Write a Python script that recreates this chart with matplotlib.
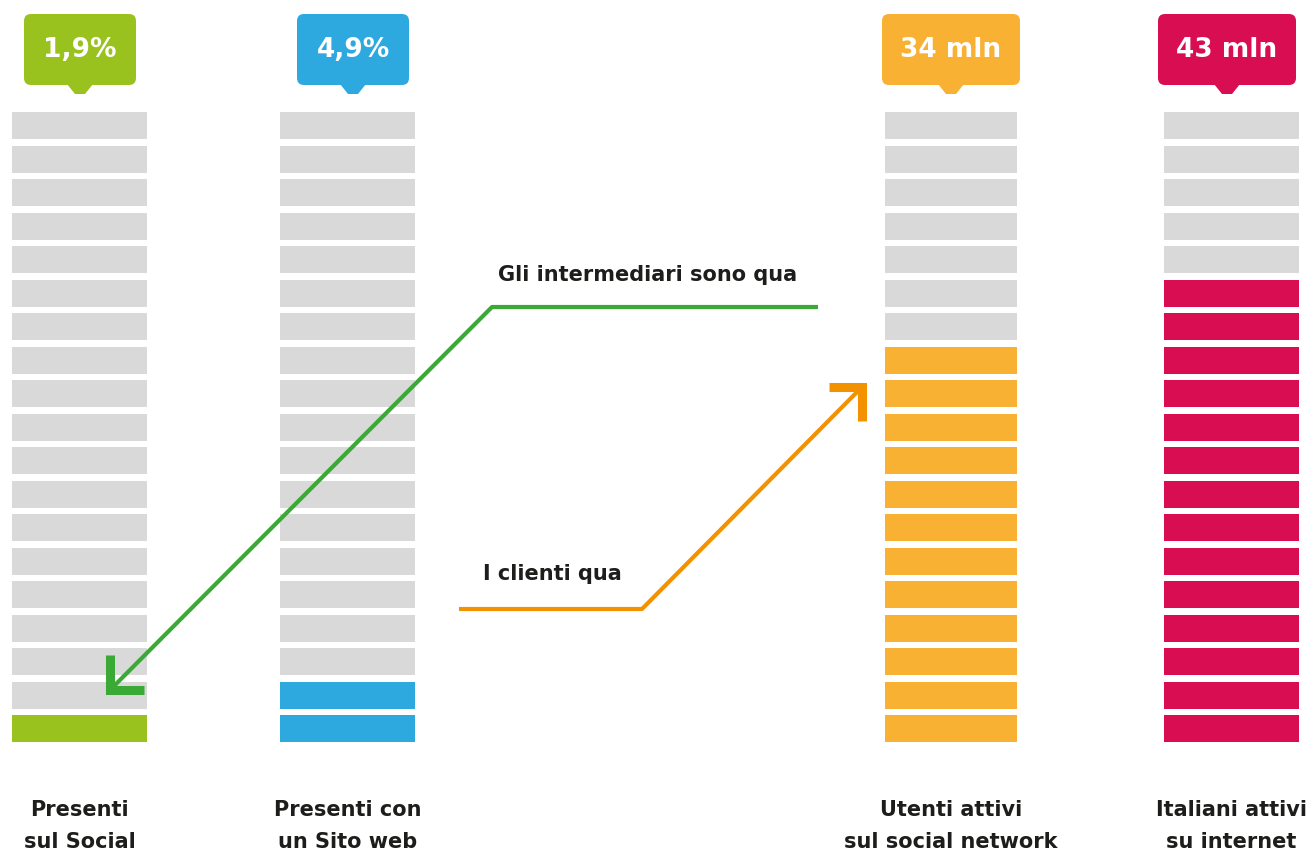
import matplotlib
matplotlib.use("Agg")
import matplotlib.pyplot as plt
from matplotlib.patches import FancyBboxPatch, Polygon

# data
categories = ["Presenti\nsul Social", "Presenti con\nun Sito web",
              "Utenti attivi\nsul social network", "Italiani attivi\nsu internet"]
value_labels = ["1,9%", "4,9%", "34 mln", "43 mln"]
filled = [1, 2, 12, 14]
total_segments = 19
colors = ["#99C21F", "#2EA9E0", "#F8B133", "#D80D52"]

# layout (pixels)
W, H = 1314, 861
col_left = [12, 280, 885, 1164]
col_width = [135, 135, 132, 135]
box_center = [80, 353, 951, 1227]
box_width = [112, 112, 138, 138]
grid_bottom = 742
pitch = 33.5
seg_h = 27
gray = "#D9D9D9"
ink = "#1D1D1B"

fig = plt.figure(figsize=(W / 100, H / 100), dpi=100)
ax = fig.add_axes([0, 0, 1, 1])
ax.set_xlim(0, W)
ax.set_ylim(H, 0)
ax.axis("off")

for i in range(len(categories)):
    cx = col_left[i] + col_width[i] / 2
    for r in range(total_segments):
        c = colors[i] if r < filled[i] else gray
        ax.bar(cx, -seg_h, bottom=grid_bottom - r * pitch, width=col_width[i],
               color=c, linewidth=0)

    # callout box
    bx = box_center[i]
    bw = box_width[i]
    ax.add_patch(FancyBboxPatch((bx - bw / 2, 14), bw, 71,
                                boxstyle="round,pad=0,rounding_size=7",
                                facecolor=colors[i], edgecolor="none"))
    ax.add_patch(Polygon([(bx - 13, 84), (bx + 13, 84), (bx + 5, 94), (bx - 5, 94)],
                         closed=True, facecolor=colors[i], edgecolor="none"))
    ax.text(bx, 50, value_labels[i], color="white", fontsize=19, fontweight="bold",
            ha="center", va="center")

    # category label
    ax.text(cx, 826, categories[i], color=ink, fontsize=15, fontweight="bold",
            ha="center", va="center", linespacing=1.75)

# annotations
green = "#3BA935"
orange = "#F39200"

ax.plot([818, 492, 110], [307, 307, 690], color=green, lw=3, solid_capstyle="butt")
ax.plot([144, 110, 110], [690, 690, 655], color=green, lw=6.5,
        solid_joinstyle="miter", solid_capstyle="butt")
ax.text(648, 275, "Gli intermediari sono qua", color=ink, fontsize=15,
        fontweight="bold", ha="center", va="center")

ax.plot([459, 642, 862], [609, 609, 387], color=orange, lw=3, solid_capstyle="butt")
ax.plot([829, 862, 862], [387, 387, 421], color=orange, lw=6.5,
        solid_joinstyle="miter", solid_capstyle="butt")
ax.text(552, 574, "I clienti qua", color=ink, fontsize=15,
        fontweight="bold", ha="center", va="center")

fig.savefig("out.png", dpi=100, facecolor="white")
